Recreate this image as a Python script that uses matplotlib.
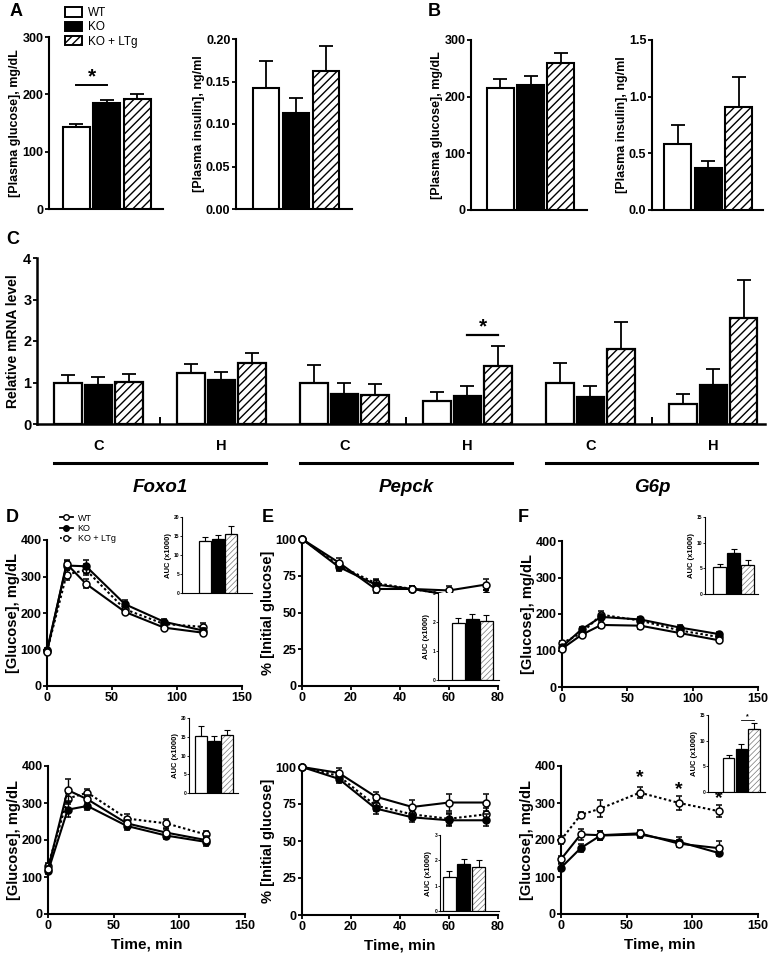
import numpy as np
import matplotlib
matplotlib.use("Agg")
import matplotlib.pyplot as plt
from matplotlib.patches import Patch
from matplotlib.lines import Line2D
from matplotlib import transforms

plt.rcParams['font.family'] = ['Liberation Sans', 'DejaVu Sans']
plt.rcParams['font.weight'] = 'bold'
plt.rcParams['hatch.linewidth'] = 1.0

W, H = 769, 958

# ---- data ----
groups = ['WT', 'KO', 'KO + LTg']

a_glucose = [143, 185, 191]
a_glucose_err = [6, 5, 9]
a_insulin = [0.142, 0.113, 0.162]
a_insulin_err = [0.032, 0.018, 0.030]
b_glucose = [216, 221, 260]
b_glucose_err = [16, 16, 17]
b_insulin = [0.58, 0.37, 0.91]
b_insulin_err = [0.17, 0.06, 0.26]

c_genes = ['Foxo1', 'Pepck', 'G6p']
c_tissues = ['C', 'H']
c_wt = [0.98, 1.22, 0.98, 0.55, 0.98, 0.48]
c_wt_err = [0.21, 0.23, 0.45, 0.22, 0.50, 0.24]
c_ko = [0.95, 1.05, 0.72, 0.68, 0.65, 0.93]
c_ko_err = [0.18, 0.20, 0.28, 0.23, 0.26, 0.40]
c_ltg = [1.02, 1.46, 0.70, 1.40, 1.80, 2.56]
c_ltg_err = [0.19, 0.25, 0.27, 0.47, 0.65, 0.90]

t_gtt = [0, 15, 30, 60, 90, 120]
t_itt = [0, 15, 30, 45, 60, 75]

d1_wt = [93, 335, 280, 203, 160, 146]
d1_wt_err = [5, 10, 12, 6, 6, 5]
d1_ko = [98, 330, 328, 224, 176, 152]
d1_ko_err = [5, 12, 18, 12, 8, 6]
d1_ltg = [95, 305, 318, 210, 170, 162]
d1_ltg_err = [5, 14, 15, 8, 8, 10]

d2_wt = [122, 335, 310, 245, 220, 200]
d2_wt_err = [8, 30, 12, 10, 10, 10]
d2_ko = [115, 282, 292, 238, 212, 195]
d2_ko_err = [8, 20, 10, 10, 10, 10]
d2_ltg = [130, 312, 328, 258, 245, 215]
d2_ltg_err = [8, 15, 10, 12, 12, 10]

e1_wt = [100, 84, 66, 66, 65, 69]
e1_wt_err = [0, 3, 3, 2, 3, 4]
e1_ko = [100, 81, 69, 66, 62, 62]
e1_ko_err = [0, 3, 3, 2, 3, 3]
e1_ltg = [100, 82, 70, 66, 62, 62]
e1_ltg_err = [0, 3, 3, 2, 3, 3]

e2_wt = [100, 96, 80, 73, 76, 76]
e2_wt_err = [0, 3, 3, 5, 6, 6]
e2_ko = [100, 92, 72, 66, 64, 64]
e2_ko_err = [0, 3, 4, 3, 4, 4]
e2_ltg = [100, 94, 74, 68, 65, 68]
e2_ltg_err = [0, 3, 4, 3, 4, 4]

f1_wt = [105, 143, 170, 168, 148, 128]
f1_wt_err = [5, 6, 8, 10, 8, 6]
f1_ko = [110, 158, 192, 185, 163, 145]
f1_ko_err = [5, 6, 8, 8, 7, 6]
f1_ltg = [120, 148, 198, 182, 155, 137]
f1_ltg_err = [5, 6, 10, 8, 7, 6]

f2_wt = [148, 215, 213, 218, 190, 178]
f2_wt_err = [10, 15, 12, 10, 10, 18]
f2_ko = [125, 178, 212, 215, 195, 165]
f2_ko_err = [10, 10, 12, 10, 12, 8]
f2_ltg = [200, 268, 285, 328, 300, 278]
f2_ltg_err = [12, 8, 22, 15, 18, 16]
f2_star_t = [60, 90, 120]
f2_star_y = [368, 337, 312]

auc_d1 = [13.8, 14.2, 15.6]
auc_d1_err = [1.0, 1.0, 2.0]
auc_d2 = [15.2, 14.0, 15.6]
auc_d2_err = [2.6, 1.2, 1.1]
auc_e1 = [1.97, 2.10, 2.05]
auc_e1_err = [0.18, 0.17, 0.18]
auc_e2 = [1.33, 1.87, 1.75]
auc_e2_err = [0.25, 0.18, 0.28]
auc_f1 = [5.2, 7.9, 5.7]
auc_f1_err = [0.6, 0.9, 0.9]
auc_f2 = [6.6, 8.3, 12.2]
auc_f2_err = [0.7, 1.1, 1.3]

fig = plt.figure(figsize=(W / 100, H / 100), dpi=100)


def add_ax(l, t, r, b):
    ax = fig.add_axes([l / W, 1 - b / H, (r - l) / W, (b - t) / H])
    ax.spines['top'].set_visible(False)
    ax.spines['right'].set_visible(False)
    for s in ('left', 'bottom'):
        ax.spines[s].set_linewidth(1.5)
    ax.tick_params(width=1.3, length=3, labelsize=9, pad=1)
    return ax


def draw_bars(ax, xs, vals, errs, width, lw=1.5, cap=5, elw=1.3, inset=False):
    for i, (x, v) in enumerate(zip(xs, vals)):
        if i == 1:
            ax.bar(x, v, width, color='black', edgecolor='black', linewidth=lw, zorder=3)
        elif i == 2:
            hc = '#777777' if inset else 'black'
            hatch = '//////' if inset else '////'
            ax.bar(x, v, width, color='white', edgecolor=hc, hatch=hatch, linewidth=0, zorder=3)
            ax.bar(x, v, width, fill=False, edgecolor='black', linewidth=lw, zorder=4)
        else:
            ax.bar(x, v, width, color='white', edgecolor='black', linewidth=lw, zorder=3)
    ax.errorbar(xs, vals, yerr=[np.zeros(len(vals)), errs], fmt='none', ecolor='black',
                elinewidth=elw, capsize=cap, capthick=elw, zorder=2)


def bar_panel(l, t, r, b, vals, errs, ylim, yticks, ylabel, xlim, fmt=None):
    ax = add_ax(l, t, r, b)
    draw_bars(ax, np.arange(3), vals, errs, 0.88)
    ax.set_xlim(*xlim)
    ax.set_ylim(*ylim)
    ax.set_yticks(yticks)
    if fmt:
        ax.set_yticklabels([fmt.format(v) for v in yticks])
    ax.set_xticks([])
    ax.set_ylabel(ylabel, fontsize=9, fontweight='bold', labelpad=1)
    return ax


def inset(l, t, r, b, vals, errs, ylim, yticks, xlim):
    ax = add_ax(l, t, r, b)
    for s in ('left', 'bottom'):
        ax.spines[s].set_linewidth(0.8)
    ax.tick_params(width=0.6, length=1.5, labelsize=3.5, pad=0.5)
    with plt.rc_context({'hatch.linewidth': 0.5}):
        draw_bars(ax, np.arange(3), vals, errs, 0.9, lw=0.9, cap=2.5, elw=0.8, inset=True)
    ax.set_xlim(*xlim)
    ax.set_ylim(*ylim)
    ax.set_yticks(yticks)
    ax.set_xticks([])
    ax.set_ylabel('AUC (x1000)', fontsize=5.5, fontweight='bold', labelpad=1.5)
    return ax


def timecourse(l, t, r, b, tt, wt, wte, ko, koe, ltg, ltge, xlim, xticks, ylim, yticks,
               ylabel, xlabel=None):
    ax = add_ax(l, t, r, b)
    ax.tick_params(labelsize=9)
    common = dict(color='black', lw=1.5, ms=5, mew=1.1, elinewidth=1.0, capsize=2.5,
                  capthick=1.0, clip_on=False)
    ax.errorbar(tt, ltg, yerr=ltge, marker='o', linestyle=(0, (1.2, 1.2)), mfc='white', zorder=3, **common)
    ax.errorbar(tt, ko, yerr=koe, marker='o', linestyle='-', mfc='black', zorder=4, **common)
    ax.errorbar(tt, wt, yerr=wte, marker='o', linestyle='-', mfc='white', zorder=5, **common)
    ax.set_xlim(*xlim)
    ax.set_ylim(*ylim)
    ax.set_xticks(xticks)
    ax.set_yticks(yticks)
    ax.set_ylabel(ylabel, fontsize=10.5, fontweight='bold', labelpad=0.5)
    if xlabel:
        ax.set_xlabel(xlabel, fontsize=11, fontweight='bold', labelpad=4)
    return ax


# ---- panel A / B ----
axA1 = bar_panel(49, 37, 163, 209, a_glucose, a_glucose_err, (0, 300), [0, 100, 200, 300],
                 '[Plasma glucose], mg/dL', (-0.9, 2.85))
axA1.plot([0, 1], [216, 216], color='black', lw=1.4)
axA1.text(0.5, 230, '*', ha='center', va='center', fontsize=15, fontweight='bold')
bar_panel(236, 39, 352, 209, a_insulin, a_insulin_err, (0, 0.2), [0, 0.05, 0.1, 0.15, 0.2],
          '[Plasma insulin], ng/ml', (-1.0, 2.87), fmt='{:.2f}')
bar_panel(471, 40, 587, 210, b_glucose, b_glucose_err, (0, 300), [0, 100, 200, 300],
          '[Plasma glucose], mg/dL', (-0.97, 2.87))
bar_panel(652, 40, 763, 210, b_insulin, b_insulin_err, (0, 1.5), [0, 0.5, 1.0, 1.5],
          '[Plasma insulin], ng/ml', (-0.85, 2.8), fmt='{:.1f}')

handles = [Patch(facecolor='white', edgecolor='black', linewidth=1.4),
           Patch(facecolor='black', edgecolor='black', linewidth=1.4),
           Patch(facecolor='white', edgecolor='black', hatch='////', linewidth=1.4)]
fig.legend(handles, groups, loc='upper left', bbox_to_anchor=(58 / W, 1 - 0 / H),
           frameon=False, handlelength=1.4, handleheight=0.85,
           labelspacing=0.2, borderpad=0.1, handletextpad=0.5,
           prop={'weight': 'normal', 'size': 8.5})

# ---- panel C ----
axC = add_ax(37, 258, 765, 424)
axC.spines['bottom'].set_linewidth(1.8)
axC.spines['left'].set_linewidth(1.8)
xc = np.arange(len(c_wt))
step = 0.248
for k in range(len(c_wt)):
    draw_bars(axC, [xc[k] - step, xc[k], xc[k] + step],
              [c_wt[k], c_ko[k], c_ltg[k]], [c_wt_err[k], c_ko_err[k], c_ltg_err[k]],
              0.222, lw=1.6, cap=5)
axC.set_xlim(-0.5, 5.42)
axC.set_ylim(0, 4)
axC.set_yticks([0, 1, 2, 3, 4])
axC.tick_params(labelsize=10.5)
axC.set_xticks([0.5, 2.5, 4.5])
axC.set_xticklabels([])
axC.tick_params(axis='x', direction='in', length=5, width=1.4)
axC.set_ylabel('Relative mRNA level', fontsize=10, fontweight='bold', labelpad=2)
trC = transforms.blended_transform_factory(axC.transData, axC.transAxes)
for k in range(len(c_wt)):
    axC.text(xc[k], -0.13, c_tissues[k % 2], transform=trC, ha='center', va='center',
             fontsize=10.5, fontweight='bold')
for g, gene in enumerate(c_genes):
    x0 = xc[2 * g] - step - 0.111
    x1 = xc[2 * g + 1] + step + 0.111
    axC.plot([x0, x1], [-0.235, -0.235], transform=trC, color='black', lw=2.2, clip_on=False)
    axC.text((x0 + x1) / 2, -0.385, gene, transform=trC, ha='center', va='center',
             fontsize=13.5, fontweight='bold', style='italic')
axC.plot([xc[3], xc[3] + step], [2.15, 2.15], color='black', lw=1.6)
axC.text(xc[3] + step / 2, 2.33, '*', ha='center', va='center', fontsize=15, fontweight='bold')

# ---- panels D, E, F ----
timecourse(47, 540, 242, 686, t_gtt, d1_wt, d1_wt_err, d1_ko, d1_ko_err, d1_ltg, d1_ltg_err,
           (0, 150), [0, 50, 100, 150], (0, 400), [0, 100, 200, 300, 400],
           '[Glucose], mg/dL')
timecourse(48, 766, 245, 914, t_gtt, d2_wt, d2_wt_err, d2_ko, d2_ko_err, d2_ltg, d2_ltg_err,
           (0, 150), [0, 50, 100, 150], (0, 400), [0, 100, 200, 300, 400],
           '[Glucose], mg/dL', 'Time, min')
timecourse(302, 539, 498, 686, t_itt, e1_wt, e1_wt_err, e1_ko, e1_ko_err, e1_ltg, e1_ltg_err,
           (0, 80), [0, 20, 40, 60, 80], (0, 100), [0, 25, 50, 75, 100],
           '% [Initial glucose]')
timecourse(302, 767, 498, 915, t_itt, e2_wt, e2_wt_err, e2_ko, e2_ko_err, e2_ltg, e2_ltg_err,
           (0, 80), [0, 20, 40, 60, 80], (0, 100), [0, 25, 50, 75, 100],
           '% [Initial glucose]', 'Time, min')
timecourse(562, 541, 758, 687, t_gtt, f1_wt, f1_wt_err, f1_ko, f1_ko_err, f1_ltg, f1_ltg_err,
           (0, 150), [0, 50, 100, 150], (0, 400), [0, 100, 200, 300, 400],
           '[Glucose], mg/dL')
axF2 = timecourse(561, 766, 758, 914, t_gtt, f2_wt, f2_wt_err, f2_ko, f2_ko_err, f2_ltg, f2_ltg_err,
                  (0, 150), [0, 50, 100, 150], (0, 400), [0, 100, 200, 300, 400],
                  '[Glucose], mg/dL', 'Time, min')
for tx, ty in zip(f2_star_t, f2_star_y):
    axF2.text(tx, ty, '*', ha='center', va='center', fontsize=14, fontweight='bold')

lh = [Line2D([], [], color='black', marker='o', mfc='white', lw=1.3, ms=4),
      Line2D([], [], color='black', marker='o', mfc='black', lw=1.3, ms=4),
      Line2D([], [], color='black', marker='o', mfc='white', lw=1.3, ms=4, linestyle=':')]
fig.legend(lh, groups, loc='upper left', bbox_to_anchor=(55 / W, 1 - 509 / H), frameon=False,
           handlelength=1.5, labelspacing=0.15, borderpad=0, handletextpad=0.5,
           prop={'weight': 'normal', 'size': 6.5})

inset(182, 517, 252, 593, auc_d1, auc_d1_err, (0, 20), [0, 5, 10, 15, 20], (-1.77, 3.6))
inset(189, 718, 238, 793, auc_d2, auc_d2_err, (0, 20), [0, 5, 10, 15, 20], (-0.92, 2.85))
inset(438, 593, 499, 680, auc_e1, auc_e1_err, (0, 3), [0, 1, 2, 3], (-1.46, 2.9))
inset(440, 835, 499, 911, auc_e2, auc_e2_err, (0, 3), [0, 1, 2, 3], (-0.63, 3.4))
inset(705, 517, 758, 594, auc_f1, auc_f1_err, (0, 15), [0, 5, 10, 15], (-1.04, 2.75))
axFi = inset(708, 715, 765, 792, auc_f2, auc_f2_err, (0, 15), [0, 5, 10, 15], (-1.6, 2.84))
axFi.plot([1, 2], [14.0, 14.0], color='black', lw=0.6)
axFi.text(1.5, 14.6, '*', ha='center', va='center', fontsize=5)

# panel letters
for letter, (px, py) in {'A': (10, 12), 'B': (428, 12), 'C': (6, 240), 'D': (6, 517),
                         'E': (262, 517), 'F': (518, 517)}.items():
    fig.text(px / W, 1 - py / H, letter, fontsize=13, fontweight='bold', ha='left', va='center')

fig.savefig('out.png', dpi=100)
